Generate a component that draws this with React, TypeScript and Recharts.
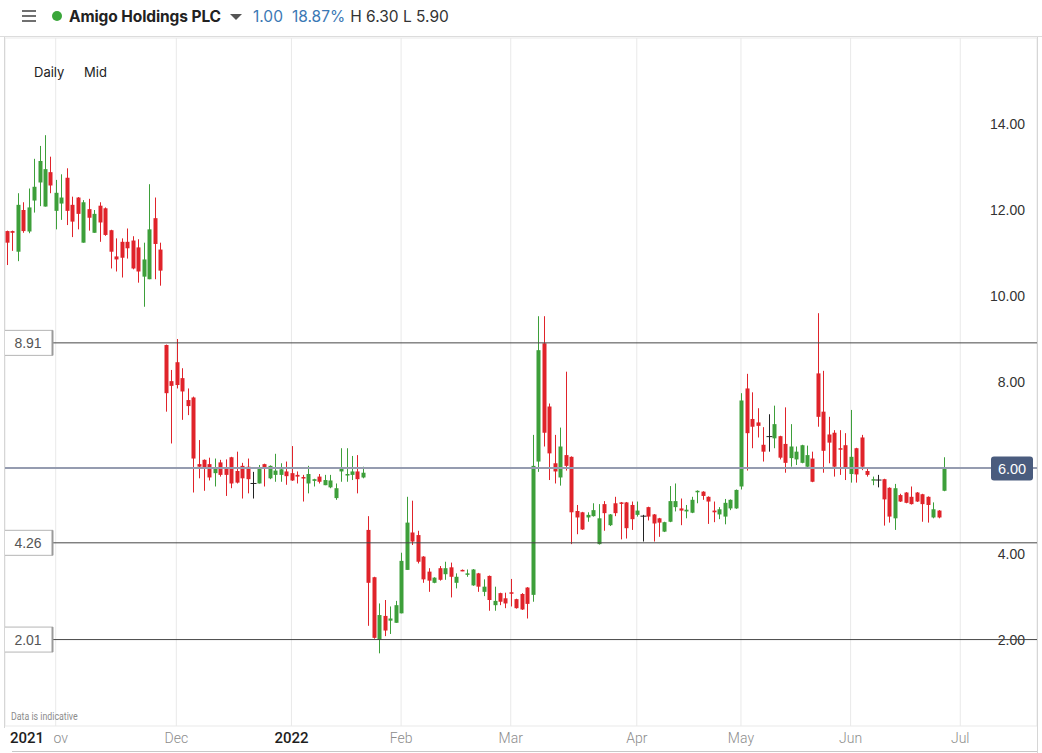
import React from "react";
import { ComposedChart, Bar, XAxis, YAxis, CartesianGrid, ReferenceLine } from "recharts";

// Daily OHLC (trading sessions from 19 Oct 2021 to 28 Jun 2022)
const openP = [
  11.51, 11.51, 11.03, 12.0, 11.5, 12.22, 12.64, 12.08, 12.88, 11.98,
  12.15, 12.75, 12.12, 12.29, 11.24, 12.02, 11.47, 12.1, 12.04, 11.53,
  10.92, 11.26, 11.26, 11.29, 11.13, 10.45, 10.39, 11.81, 11.08, 8.86,
  8.02, 8.46, 8.09, 7.58, 7.64, 6.09, 6.19, 6.09, 5.88, 6.13,
  5.99, 6.25, 5.93, 6.05, 6.03, 5.64, 5.64, 6.09, 5.76, 5.84,
  5.84, 5.92, 5.88, 5.84, 5.79, 5.64, 5.7, 5.8, 5.6, 5.55,
  5.3, 5.92, 5.84, 5.84, 5.92, 5.78, 4.56, 3.46, 2.0, 2.56,
  2.45, 2.4, 2.62, 3.63, 4.5, 4.44, 3.94, 3.59, 3.33, 3.67,
  3.53, 3.69, 3.33, 3.63, 3.53, 3.27, 3.55, 3.12, 3.49, 2.81,
  3.09, 2.97, 3.11, 2.95, 3.07, 3.22, 3.05, 6.15, 8.9, 7.43,
  6.11, 5.78, 6.3, 6.26, 5.0, 4.97, 4.85, 4.88, 4.23, 5.16,
  4.67, 5.18, 5.2, 5.2, 5.14, 4.91, 4.88, 5.09, 4.92, 4.83,
  4.52, 4.75, 5.09, 5.06, 4.99, 4.96, 5.45, 5.45, 5.33, 5.01,
  4.92, 4.87, 5.06, 5.06, 5.57, 7.85, 7.14, 7.06, 6.54, 6.73,
  6.69, 6.74, 6.56, 6.23, 6.2, 6.12, 6.03, 6.22, 8.2, 7.31,
  6.78, 6.82, 6.46, 6.53, 5.86, 6.46, 6.71, 5.93, 5.71, 5.72,
  5.74, 5.54, 4.83, 5.37, 5.43, 5.33, 5.43, 5.39, 5.33, 4.85,
  5.01, 5.47,
];
const highP = [
  11.52, 11.52, 12.39, 12.18, 12.5, 13.19, 13.49, 13.74, 13.24, 12.7,
  12.83, 12.97, 12.31, 12.3, 12.23, 12.26, 12.0, 12.18, 12.06, 11.54,
  11.34, 11.34, 11.57, 11.39, 11.32, 11.24, 12.6, 12.29, 11.24, 8.87,
  8.28, 9.0, 8.32, 7.85, 7.66, 6.65, 6.2, 6.24, 6.22, 6.19,
  6.2, 6.26, 6.38, 6.12, 6.22, 5.91, 6.07, 6.1, 6.06, 6.33,
  6.11, 6.15, 6.51, 5.92, 5.84, 6.05, 5.75, 5.86, 5.84, 5.84,
  5.64, 6.46, 6.46, 6.28, 6.3, 6.03, 4.88, 3.47, 2.85, 2.93,
  2.78, 2.91, 4.03, 5.33, 5.24, 4.54, 3.95, 3.67, 3.46, 3.72,
  3.82, 3.8, 3.55, 3.64, 3.64, 3.65, 3.56, 3.41, 3.5, 3.24,
  3.1, 3.1, 3.42, 2.96, 3.09, 3.23, 6.77, 9.53, 9.53, 7.5,
  6.77, 6.94, 8.24, 6.27, 5.14, 4.98, 4.97, 5.18, 5.16, 5.23,
  4.93, 5.33, 5.21, 5.21, 5.22, 5.22, 4.91, 5.1, 4.93, 4.84,
  4.75, 5.58, 5.64, 5.29, 5.14, 5.33, 5.48, 5.46, 5.34, 5.22,
  5.09, 5.28, 5.27, 5.5, 7.74, 8.19, 7.76, 7.39, 6.95, 7.25,
  7.45, 6.75, 7.41, 7.02, 6.5, 6.54, 6.52, 6.38, 9.6, 8.26,
  7.19, 6.88, 6.88, 6.81, 7.35, 6.47, 6.77, 5.99, 5.8, 5.84,
  5.75, 5.55, 5.63, 5.4, 5.44, 5.57, 5.44, 5.4, 5.34, 5.2,
  5.02, 6.25,
];
const lowP = [
  10.72, 11.05, 10.81, 11.47, 11.46, 11.94, 12.09, 12.08, 12.39, 11.55,
  11.77, 11.65, 11.37, 11.55, 11.24, 11.52, 11.47, 11.26, 11.4, 10.64,
  10.57, 10.43, 10.87, 10.62, 10.31, 9.75, 10.39, 10.39, 10.24, 7.31,
  6.57, 7.85, 7.12, 7.23, 5.43, 5.76, 5.47, 5.71, 5.57, 5.8,
  5.35, 5.53, 5.64, 5.29, 5.41, 5.29, 5.64, 5.57, 5.74, 5.68,
  5.68, 5.61, 5.7, 5.64, 5.22, 5.41, 5.57, 5.64, 5.6, 5.53,
  5.26, 5.68, 5.68, 5.72, 5.41, 5.76, 2.33, 2.03, 1.69, 2.09,
  2.14, 2.4, 2.62, 3.63, 4.21, 3.78, 3.33, 3.12, 3.32, 3.38,
  3.4, 2.99, 3.2, 3.6, 3.47, 3.26, 3.12, 3.02, 2.68, 2.68,
  2.81, 2.74, 2.78, 2.73, 2.7, 2.5, 2.89, 5.91, 6.5, 5.72,
  5.64, 5.59, 5.94, 4.23, 4.46, 4.56, 4.75, 4.87, 4.22, 4.54,
  4.65, 4.88, 4.34, 4.36, 4.56, 4.87, 4.29, 4.78, 4.29, 4.4,
  4.51, 4.74, 4.99, 4.67, 4.83, 4.95, 5.18, 5.26, 4.7, 4.74,
  4.81, 4.69, 5.02, 5.05, 5.5, 5.94, 6.46, 6.71, 6.15, 6.38,
  6.46, 6.2, 5.89, 6.03, 6.07, 6.11, 6.02, 5.67, 6.96, 5.89,
  6.11, 5.8, 5.84, 5.72, 5.66, 5.66, 5.95, 5.8, 5.6, 5.55,
  4.66, 4.73, 4.56, 5.21, 5.18, 5.15, 5.21, 4.75, 4.73, 4.83,
  4.83, 5.46,
];
const closeP = [
  11.24, 11.47, 12.12, 11.51, 12.06, 12.54, 13.14, 12.95, 12.57, 12.4,
  12.29, 11.98, 11.73, 11.91, 12.18, 11.82, 11.91, 11.71, 11.42, 11.03,
  10.85, 10.89, 11.11, 10.64, 10.57, 10.85, 11.55, 11.21, 10.59, 7.74,
  7.91, 7.93, 7.78, 7.44, 6.22, 6.03, 5.98, 5.78, 5.99, 5.84,
  5.84, 5.64, 5.66, 5.76, 5.74, 5.64, 5.99, 5.99, 6.05, 5.94,
  5.97, 5.81, 5.71, 5.8, 5.78, 5.86, 5.74, 5.68, 5.72, 5.71,
  5.53, 5.99, 5.86, 5.92, 5.74, 5.89, 3.33, 2.05, 2.58, 2.22,
  2.5, 2.81, 3.84, 4.73, 4.29, 3.82, 3.41, 3.38, 3.45, 3.4,
  3.67, 3.47, 3.47, 3.61, 3.55, 3.64, 3.24, 3.24, 2.93, 2.91,
  2.89, 2.85, 3.08, 2.74, 2.71, 2.84, 6.05, 8.74, 6.82, 6.34,
  5.92, 6.5, 6.05, 4.97, 4.85, 4.57, 4.91, 5.02, 4.83, 4.95,
  4.92, 4.95, 5.18, 4.6, 4.81, 5.01, 4.88, 4.87, 4.71, 4.73,
  4.74, 5.23, 5.23, 5.01, 5.03, 5.26, 5.47, 5.35, 5.22, 4.97,
  5.04, 5.19, 5.26, 5.49, 7.57, 6.81, 6.96, 6.98, 6.38, 6.73,
  7.02, 6.24, 6.12, 6.5, 6.38, 6.53, 6.3, 5.68, 7.19, 6.4,
  6.59, 6.03, 6.43, 6.01, 6.26, 5.85, 6.03, 5.84, 5.74, 5.72,
  5.27, 4.87, 5.53, 5.22, 5.19, 5.16, 5.22, 5.16, 5.14, 5.04,
  4.85, 6.0,
];

const monthTicks = [9, 31, 52, 72, 92, 115, 134, 154, 174];
const monthLabels = ["Nov", "Dec", "2022", "Feb", "Mar", "Apr", "May", "Jun", "Jul"];
const priceTicks = [2, 4, 6, 8, 10, 12, 14];
const levelLines = [8.91, 4.26, 2.01];
const lastPrice = 6.0;

const GREEN = "#3d9f3a";
const RED = "#e0232a";
const DOJI = "#222222";

const data = openP.map((o, i) => ({
  i,
  open: o,
  high: highP[i],
  low: lowP[i],
  close: closeP[i],
}));

const Candle = (props: any) => {
  const { x, y, width, height, payload } = props;
  if (!payload) return null;
  const { open, close, high, low } = payload;
  const top = Math.min(y, y + height);
  const h = Math.abs(height);
  const range = high - low;
  const py = (v: number) => (range > 0 ? top + (h * (high - v)) / range : top);
  const cx = Math.round(x + width / 2) + 0.5;
  const color = close > open ? GREEN : close < open ? RED : DOJI;
  const bTop = py(Math.max(open, close));
  const bBot = py(Math.min(open, close));
  const bw = 4;
  return (
    <g>
      <line x1={cx} x2={cx} y1={top} y2={top + h} stroke={color} strokeWidth={1} />
      {color === DOJI ? (
        <line x1={cx - 3} x2={cx + 3} y1={bTop} y2={bTop} stroke={color} strokeWidth={1} />
      ) : (
        <rect x={cx - bw / 2} y={bTop} width={bw} height={Math.max(bBot - bTop, 1.5)} fill={color} />
      )}
    </g>
  );
};

const MonthTick = (props: any) => {
  const { x, payload } = props;
  const k = monthTicks.indexOf(payload.value);
  const label = monthLabels[k] ?? "";
  const isYear = /^\d{4}$/.test(label);
  return (
    <g>
      <text
        x={x}
        y={743}
        textAnchor="middle"
        fontFamily="Roboto, 'Liberation Sans', sans-serif"
        fontSize={isYear ? 15 : 14}
        fontWeight={isYear ? 500 : 300}
        fill={isYear ? "#1e1e1e" : "#8c8c8c"}
      >
        {label}
      </text>
      {k === 0 && (
        <g>
          <rect x={5} y={728} width={48.5} height={22} fill="#fff" />
          <text
            x={10}
            y={743}
            fontFamily="Roboto, 'Liberation Sans', sans-serif"
            fontSize={15}
            fontWeight={500}
            fill="#1e1e1e"
          >
            2021
          </text>
        </g>
      )}
    </g>
  );
};

const PriceLabel = (value: number) => (props: any) => {
  const vb = props.viewBox || {};
  const y = vb.y ?? 0;
  return (
    <g>
      <rect x={985} y={y - 8} width={42} height={16} fill="#fff" />
      <text
        x={1025}
        y={y + 5}
        textAnchor="end"
        fontFamily="'Liberation Sans', Arial, sans-serif"
        fontSize={14}
        fill="#333"
      >
        {value.toFixed(2)}
      </text>
    </g>
  );
};

const LeftLabel = (value: number) => (props: any) => {
  const vb = props.viewBox || {};
  const y = vb.y ?? 0;
  return (
    <g>
      <rect x={4.5} y={y - 12.5} width={48} height={25} fill="#fff" stroke="#b5b5b5" strokeWidth={1} />
      <line x1={52.5} x2={52.5} y1={y - 12.5} y2={y + 12.5} stroke="#9a9a9a" strokeWidth={2} />
      <text
        x={28}
        y={y + 5}
        textAnchor="middle"
        fontFamily="'Liberation Sans', Arial, sans-serif"
        fontSize={14}
        fill="#555"
      >
        {value.toFixed(2)}
      </text>
    </g>
  );
};

const RightLabel = (props: any) => {
  const vb = props.viewBox || {};
  const y = vb.y ?? 0;
  return (
    <g>
      <rect x={991} y={y - 11.5} width={42} height={24} rx={3} fill="#4a5c7e" />
      <text
        x={1012}
        y={y + 5.5}
        textAnchor="middle"
        fontFamily="'Liberation Sans', Arial, sans-serif"
        fontSize={14.5}
        fill="#fff"
      >
        {lastPrice.toFixed(2)}
      </text>
    </g>
  );
};

export default function App() {
  return (
    <div
      style={{
        position: "absolute",
        left: 0,
        top: 0,
        width: 1042,
        height: 753,
        background: "#fff",
        overflow: "hidden",
      }}
    >
      <ComposedChart
        width={1042}
        height={753}
        data={data}
        margin={{ top: 38, right: 5, bottom: 0, left: 5 }}
      >
        <CartesianGrid stroke="#e9e9e9" strokeWidth={1} />
        <XAxis
          type="number"
          dataKey="i"
          domain={[-0.25, 188]}
          ticks={monthTicks}
          interval={0}
          tick={<MonthTick />}
          tickLine={false}
          axisLine={false}
          height={27}
          allowDataOverflow
        />
        <YAxis
          orientation="right"
          mirror
          width={0}
          domain={[0, 16]}
          ticks={priceTicks}
          interval={0}
          tick={false}
          tickLine={false}
          axisLine={false}
          allowDataOverflow
        />
        {priceTicks.map((v) => (
          <ReferenceLine key={"p" + v} y={v} stroke="none" strokeOpacity={0} label={PriceLabel(v)} />
        ))}
        {levelLines.map((v) => (
          <ReferenceLine key={v} y={v} stroke="#474747" strokeWidth={1} label={LeftLabel(v)} />
        ))}
        <ReferenceLine y={lastPrice} stroke="#959cb0" strokeWidth={2} label={<RightLabel />} />
        <Bar
          dataKey={(d: any) => [d.low, d.high]}
          shape={<Candle />}
          barSize={4}
          isAnimationActive={false}
        />
      </ComposedChart>

      {/* frame lines */}
      <div style={{ position: "absolute", left: 0, top: 36, width: 1042, height: 1, background: "#dcdcdc" }} />
      <div style={{ position: "absolute", left: 4, top: 37, width: 1, height: 691, background: "#d6d6d6" }} />
      <div style={{ position: "absolute", left: 1037, top: 37, width: 1, height: 716, background: "#d6d6d6" }} />
      <div style={{ position: "absolute", left: 12, top: 751, width: 1025, height: 1, background: "#c8c8c8" }} />

      {/* header */}
      <div style={{ position: "absolute", left: 22, top: 10, width: 14 }}>
        {[0, 1, 2].map((k) => (
          <div key={k} style={{ height: 2, background: "#707070", marginBottom: 3 }} />
        ))}
      </div>
      <div
        style={{
          position: "absolute",
          left: 52,
          top: 11,
          width: 10,
          height: 10,
          borderRadius: 5,
          background: "#3aa63a",
        }}
      />
      <div
        style={{
          position: "absolute",
          left: 69,
          top: 6,
          height: 22,
          lineHeight: "22px",
          fontFamily: "Inter, 'Noto Sans', sans-serif",
          fontSize: 15.5,
          whiteSpace: "nowrap",
          display: "flex",
          alignItems: "center",
        }}
      >
        <span style={{ fontWeight: 700, color: "#222", letterSpacing: -0.1 }}>Amigo Holdings PLC</span>
        <svg width={12} height={8} style={{ marginLeft: 9, marginRight: 11 }}>
          <polygon points="0,1 12,1 6,7" fill="#555" />
        </svg>
        <span style={{ color: "#3b78b4" }}>1.00</span>
        <span style={{ color: "#3b78b4", marginLeft: 9 }}>18.87%</span>
        <span style={{ color: "#333", marginLeft: 5 }}>H 6.30 L 5.90</span>
      </div>

      <div
        style={{
          position: "absolute",
          left: 34,
          top: 64,
          fontFamily: "Inter, 'Noto Sans', sans-serif",
          fontSize: 13,
          color: "#222",
        }}
      >
        Daily
      </div>
      <div
        style={{
          position: "absolute",
          left: 84,
          top: 64,
          fontFamily: "Inter, 'Noto Sans', sans-serif",
          fontSize: 13,
          color: "#222",
        }}
      >
        Mid
      </div>
      <div
        style={{
          position: "absolute",
          left: 11,
          top: 711,
          fontFamily: "Roboto, 'Liberation Sans', sans-serif",
          fontSize: 10,
          color: "#8c8c8c",
          transform: "scaleX(0.88)",
          transformOrigin: "left top",
        }}
      >
        Data is indicative
      </div>
    </div>
  );
}
